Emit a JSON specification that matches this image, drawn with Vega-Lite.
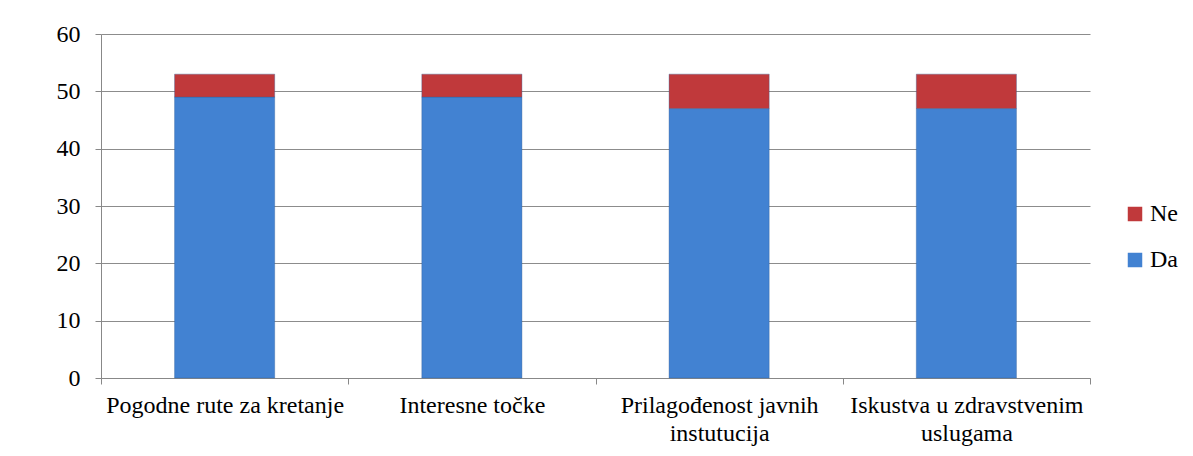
{
  "$schema": "https://vega.github.io/schema/vega-lite/v6.json",
  "width": 989,
  "height": 344,
  "autosize": {"type": "none"},
  "padding": {"left": 101, "top": 34, "right": 103, "bottom": 78},
  "background": "white",
  "config": {
    "font": "Liberation Serif",
    "view": {"stroke": null}
  },
  "data": {
    "values": [
      {"kategorija": "Pogodne rute za kretanje", "odgovor": "Da", "broj": 49, "red": 1},
      {"kategorija": "Pogodne rute za kretanje", "odgovor": "Ne", "broj": 4, "red": 2},
      {"kategorija": "Interesne točke", "odgovor": "Da", "broj": 49, "red": 1},
      {"kategorija": "Interesne točke", "odgovor": "Ne", "broj": 4, "red": 2},
      {"kategorija": "Prilagođenost javnih instutucija", "odgovor": "Da", "broj": 47, "red": 1},
      {"kategorija": "Prilagođenost javnih instutucija", "odgovor": "Ne", "broj": 6, "red": 2},
      {"kategorija": "Iskustva u zdravstvenim uslugama", "odgovor": "Da", "broj": 47, "red": 1},
      {"kategorija": "Iskustva u zdravstvenim uslugama", "odgovor": "Ne", "broj": 6, "red": 2}
    ]
  },
  "mark": {"type": "bar", "width": {"band": 0.405}, "stroke": "#2c5a94", "strokeWidth": 0.6, "strokeOpacity": 0.6},
  "encoding": {
    "x": {
      "field": "kategorija",
      "type": "nominal",
      "sort": null,
      "scale": {"paddingInner": 0, "paddingOuter": 0},
      "axis": {
        "title": null,
        "labelAngle": 0,
        "labelFontSize": 24,
        "labelColor": "#000000",
        "labelPadding": 9,
        "tickSize": 6,
        "tickBand": "extent",
        "tickColor": "#888888",
        "domainColor": "#888888",
        "labelLimit": 300,
        "labelLineHeight": 28,
        "labelExpr": "datum.value == 'Prilagođenost javnih instutucija' ? ['Prilagođenost javnih', 'instutucija'] : datum.value == 'Iskustva u zdravstvenim uslugama' ? ['Iskustva u zdravstvenim', 'uslugama'] : datum.value"
      }
    },
    "y": {
      "field": "broj",
      "type": "quantitative",
      "stack": "zero",
      "scale": {"domain": [0, 60], "nice": false},
      "axis": {
        "title": null,
        "values": [0, 10, 20, 30, 40, 50, 60],
        "labelFontSize": 24,
        "labelColor": "#000000",
        "labelPadding": 15,
        "tickSize": 6,
        "tickColor": "#888888",
        "domainColor": "#888888",
        "gridColor": "#8c8c8c",
        "gridWidth": 1
      }
    },
    "color": {
      "field": "odgovor",
      "type": "nominal",
      "scale": {"domain": ["Ne", "Da"], "range": ["#c0393b", "#4282d2"]},
      "legend": {
        "title": null,
        "orient": "none",
        "legendX": 1022,
        "legendY": 168,
        "symbolType": "square",
        "symbolSize": 210,
        "symbolStrokeWidth": 0,
        "labelFontSize": 24,
        "labelColor": "#000000",
        "rowPadding": 22,
        "labelOffset": 3
      }
    },
    "order": {"field": "red", "type": "quantitative"}
  }
}
